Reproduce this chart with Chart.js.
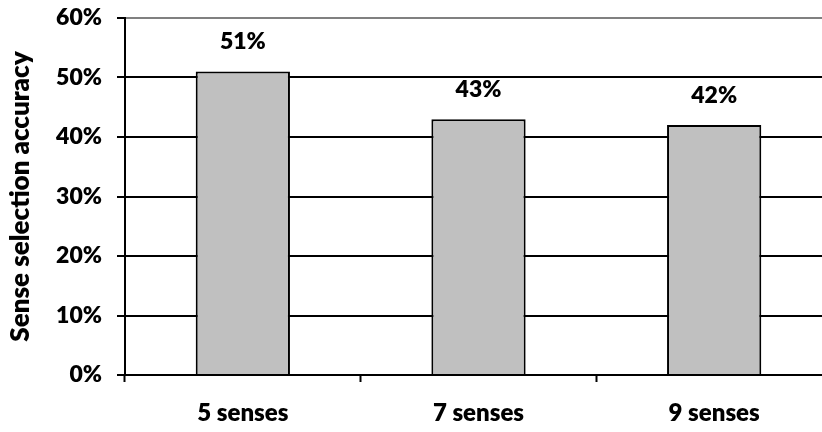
<!DOCTYPE html>
<html>
<head>
<meta charset="utf-8">
<script src="https://cdn.jsdelivr.net/npm/chart.js@4/dist/chart.umd.min.js"></script>
<style>
  html, body { margin: 0; padding: 0; background: #fff; overflow: hidden; }
  #wrap { width: 834px; height: 432px; }
</style>
</head>
<body>
<div id="wrap"><canvas id="c" width="834" height="432"></canvas></div>
<script>
// Sense selection accuracy by number of candidate senses
const categories = ['5 senses', '7 senses', '9 senses'];
const accuracy = [51, 43, 42];
const yMax = 60;
const yStep = 10;

const FONT = 'Lato, "Open Sans", sans-serif';
const WEIGHT = 800;

// Writes each bar's value above it
const valueLabels = {
  id: 'valueLabels',
  afterDatasetsDraw(chart) {
    const ctx = chart.ctx;
    const meta = chart.getDatasetMeta(0);
    ctx.save();
    ctx.font = WEIGHT + ' 23px ' + FONT;
    ctx.fillStyle = '#000';
    ctx.textAlign = 'center';
    ctx.textBaseline = 'middle';
    meta.data.forEach((bar, i) => {
      ctx.fillText(accuracy[i] + '%', bar.x, bar.y - 30);
    });
    ctx.restore();
  }
};

new Chart(document.getElementById('c'), {
  type: 'bar',
  data: {
    labels: categories,
    datasets: [{
      data: accuracy,
      backgroundColor: '#c0c0c0',
      borderColor: '#000',
      borderWidth: 2,
      borderSkipped: 'bottom',
      categoryPercentage: 1,
      barPercentage: 0.4
    }]
  },
  options: {
    responsive: false,
    animation: false,
    events: [],
    layout: { padding: { top: 18, right: 2, left: 0, bottom: 0 } },
    plugins: { legend: { display: false }, tooltip: { enabled: false } },
    scales: {
      x: {
        afterFit(scale) {
          scale.height = 57;
          scale.paddingLeft = 0;
          scale.paddingRight = 0;
        },
        grid: {
          drawOnChartArea: false,
          drawTicks: true,
          tickLength: 7,
          tickWidth: 2,
          tickColor: '#000',
          offset: true
        },
        border: { display: true, color: '#000', width: 2 },
        ticks: {
          color: '#000',
          padding: 17,
          font: { family: FONT, size: 24, weight: WEIGHT }
        }
      },
      y: {
        min: 0,
        max: yMax,
        afterFit(scale) {
          scale.width = 125;
          scale.paddingTop = 0;
          scale.paddingBottom = 0;
        },
        grid: {
          color: (c) => (c.tick && c.tick.value === yMax ? '#808080' : '#000'),
          lineWidth: 2,
          tickLength: 8,
          tickColor: '#000'
        },
        border: { display: true, color: '#000', width: 2 },
        ticks: {
          stepSize: yStep,
          color: '#000',
          padding: 15,
          font: { family: FONT, size: 23, weight: WEIGHT },
          callback: (v) => v + '%'
        },
        title: {
          display: true,
          text: 'Sense selection accuracy',
          color: '#000',
          padding: { top: 5, bottom: 4 },
          font: { family: FONT, size: 26, weight: WEIGHT }
        }
      }
    }
  },
  plugins: [valueLabels]
});
</script>
</body>
</html>
